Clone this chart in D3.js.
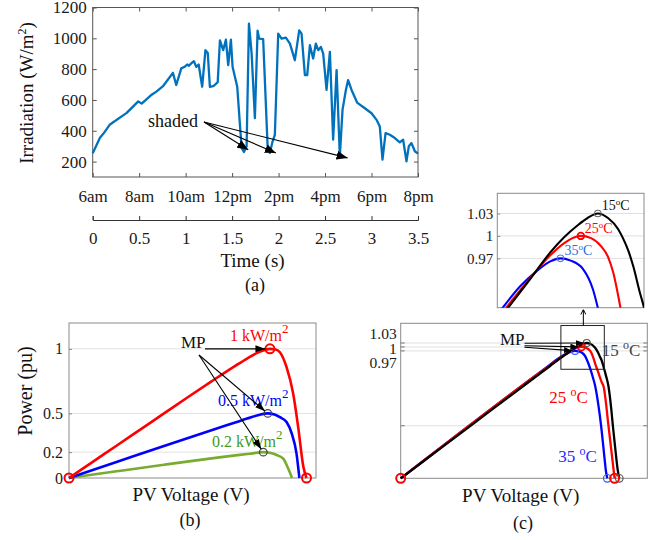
<!DOCTYPE html>
<html>
<head>
<meta charset="utf-8">
<script src="https://cdn.jsdelivr.net/npm/d3@7"></script>
<style>
  body { margin: 0; background: #fff; }
  svg { display: block; font-family: "Liberation Serif", "Times New Roman", serif; }
</style>
</head>
<body>
<svg id="fig" width="666" height="540"></svg>
<script>
// ---------------- (a) irradiation profile ----------------
const timeSec = [0, 0.078, 0.114, 0.186, 0.366, 0.49, 0.527, 0.635, 0.688, 0.76, 0.863, 0.899, 0.953, 0.989,
  1.017, 1.035, 1.06, 1.089, 1.114, 1.14, 1.178, 1.213, 1.238, 1.261, 1.304, 1.345, 1.369, 1.404, 1.433,
  1.458, 1.487, 1.505, 1.53, 1.555, 1.602, 1.627, 1.656, 1.681, 1.71, 1.745, 1.774, 1.791, 1.834, 1.882,
  1.906, 1.935, 1.96, 1.996, 2.032, 2.078, 2.122, 2.175, 2.222, 2.247, 2.283, 2.308, 2.337, 2.372, 2.401,
  2.426, 2.455, 2.48, 2.516, 2.552, 2.587, 2.624, 2.659, 2.688, 2.724, 2.748, 2.785, 2.845, 2.928, 3.0,
  3.054, 3.089, 3.118, 3.151, 3.197, 3.251, 3.304, 3.34, 3.376, 3.401, 3.43, 3.466, 3.5];
const irradiance = [254, 355, 380, 441, 516, 591, 576, 634, 656, 692, 776, 697, 805, 815,
  830, 822, 837, 852, 815, 830, 686, 923, 905, 684, 692, 716, 987, 923, 991,
  826, 991, 815, 750, 686, 289, 262, 299, 1095, 901, 482, 1049, 998, 995, 299,
  256, 330, 374, 1030, 998, 1005, 966, 858, 1052, 1030, 761, 761, 955, 869, 966,
  923, 944, 901, 665, 912, 342, 794, 234, 536, 665, 729, 665, 583, 546, 514,
  471, 428, 213, 385, 374, 353, 325, 342, 202, 299, 320, 267, 252];
const irrTicks = [200, 400, 600, 800, 1000, 1200];
const timeTicks = [0, 0.5, 1, 1.5, 2, 2.5, 3, 3.5];
const hourLabels = ["6am", "8am", "10am", "12pm", "2pm", "4pm", "6pm", "8pm"];
// arrow tips of the "shaded" note, [time (s), W/m2]
const shadedTips = [[1.673, 277], [1.971, 256], [2.742, 224]];

// ---------------- (b) P-V curves vs irradiance ----------------
const irrLabels = ["1 kW/m", "0.5 kW/m", "0.2 kW/m"];
const volt1000 = [0, 0.1, 0.2, 0.3, 0.4, 0.5, 0.6, 0.7, 0.75, 0.8, 0.846, 0.87, 0.888, 0.916, 0.944, 0.965, 0.987, 1.0];
const pow1000  = [0, 0.125, 0.25, 0.375, 0.5, 0.625, 0.748, 0.868, 0.925, 0.975, 1.0, 0.995, 0.974, 0.858, 0.652, 0.394, 0.085, 0];
const volt500  = [0, 0.2, 0.4, 0.6, 0.7, 0.75, 0.8, 0.837, 0.865, 0.888, 0.916, 0.938, 0.958, 0.97];
const pow500   = [0, 0.124, 0.248, 0.37, 0.43, 0.46, 0.488, 0.5, 0.492, 0.471, 0.433, 0.343, 0.189, 0];
const volt200  = [0, 0.2, 0.4, 0.6, 0.7, 0.76, 0.818, 0.85, 0.874, 0.902, 0.923, 0.939];
const pow200   = [0, 0.052, 0.103, 0.152, 0.175, 0.188, 0.2, 0.193, 0.178, 0.15, 0.073, 0];
const powTicksB = [0, 0.2, 0.5, 1];

// ---------------- (c) P-V curves vs temperature ----------------
const tempLabels = ["15", "25", "35"];
const volt15 = [0, 0.2, 0.4, 0.6, 0.7, 0.738, 0.76, 0.78, 0.8, 0.82, 0.84, 0.855, 0.87, 0.885, 0.9, 0.907, 0.915,
  0.922, 0.932, 0.938, 0.95, 0.96, 0.971, 0.985, 0.992, 1.005, 1.015, 1.022];
const pow15  = [0, 0.245, 0.49, 0.735, 0.857, 0.904, 0.93, 0.954, 0.978, 0.998, 1.014, 1.024, 1.03, 1.024, 1.009, 0.997, 0.98,
  0.96, 0.924, 0.904, 0.84, 0.78, 0.705, 0.52, 0.4, 0.2, 0.06, 0];
const volt25 = [0, 0.2, 0.4, 0.6, 0.7, 0.735, 0.76, 0.78, 0.8, 0.82, 0.835, 0.845, 0.86, 0.875, 0.885, 0.893, 0.9,
  0.91, 0.925, 0.94, 0.95, 0.96, 0.97, 0.98, 0.99, 1.0];
const pow25  = [0, 0.25, 0.5, 0.745, 0.862, 0.904, 0.932, 0.954, 0.974, 0.99, 0.998, 1.0, 0.997, 0.986, 0.972, 0.95, 0.92,
  0.87, 0.8, 0.73, 0.69, 0.57, 0.42, 0.28, 0.14, 0];
const volt35 = [0, 0.2, 0.4, 0.6, 0.7, 0.73, 0.755, 0.78, 0.8, 0.815, 0.83, 0.848, 0.863, 0.87, 0.885, 0.9, 0.909,
  0.925, 0.937, 0.95, 0.96, 0.966];
const pow35  = [0, 0.25, 0.5, 0.745, 0.867, 0.904, 0.932, 0.953, 0.966, 0.97, 0.967, 0.956, 0.928, 0.904, 0.84, 0.76, 0.705,
  0.55, 0.4, 0.2, 0.05, 0];
const powTicksC = [0.97, 1, 1.03];
const zoomRectV = [0.749, 0.952];
const zoomRectP = [0.83, 1.163];

// ---------------- helpers ----------------
const svg = d3.select("#fig");
const defs = svg.append("defs");
const SERIF = "'Liberation Serif','Times New Roman',serif";

function arrowMarker(id, len, wid, filled) {
  defs.append("marker").attr("id", id)
    .attr("viewBox", `0 0 ${len} ${wid}`)
    .attr("refX", len).attr("refY", wid / 2)
    .attr("markerWidth", len).attr("markerHeight", wid)
    .attr("markerUnits", "userSpaceOnUse").attr("orient", "auto")
    .append("path")
    .attr("d", filled ? `M0,0L${len},${wid / 2}L0,${wid}Z` : `M0,0.5L${len},${wid / 2}L0,${wid - 0.5}`)
    .attr("fill", filled ? "#000" : "none")
    .attr("stroke", filled ? "none" : "#000").attr("stroke-width", 1);
}
arrowMarker("headA", 11, 9, true);
arrowMarker("headB", 10, 7, true);
arrowMarker("headC", 8, 6, true);
arrowMarker("headUp", 5, 6, false);

// text made of plain and raised parts
function richText(g, x, y, parts, opt) {
  const t = g.append("text").attr("x", x).attr("y", y)
    .attr("font-size", opt.size).attr("fill", opt.color || "#111")
    .attr("text-anchor", opt.anchor || "start");
  if (opt.rotate) t.attr("transform", `rotate(${opt.rotate},${x},${y})`);
  let shift = 0;
  parts.forEach(p => {
    const s = typeof p === "string" ? { t: p, up: 0 } : p;
    const target = -(s.up || 0);
    const ts = t.append("tspan").text(s.t).attr("dy", target - shift);
    if (s.size) ts.attr("font-size", s.size);
    shift = target;
  });
  return t;
}

function styleAxis(g, size, color) {
  g.attr("font-family", SERIF);
  g.selectAll("text").attr("font-size", size).attr("fill", "#1a1a1a").attr("font-family", SERIF);
  g.selectAll("line").attr("stroke", color);
  g.selectAll(".domain").attr("stroke", color);
}

function arrow(g, x1, y1, x2, y2, marker) {
  g.append("line").attr("x1", x1).attr("y1", y1).attr("x2", x2).attr("y2", y2)
    .attr("stroke", "#000").attr("stroke-width", 1.1).attr("marker-end", `url(#${marker})`);
}

// endpoint a little short of a target, along the line from a start point
function shortOf(x1, y1, x2, y2, d) {
  const L = Math.hypot(x2 - x1, y2 - y1);
  return [x2 - (x2 - x1) / L * d, y2 - (y2 - y1) / L * d];
}

// ================= panel (a) =================
{
  const box = { l: 92.7, r: 418, t: 7.5, b: 177 };
  const x = d3.scaleLinear().domain([0, 3.5]).range([box.l, box.r]);
  const y = d3.scaleLinear().domain([100, 1200]).range([box.b, box.t]);
  const g = svg.append("g");
  const ac = "#555";

  g.append("g").attr("transform", `translate(${box.l},0)`)
    .call(d3.axisLeft(y).tickValues(irrTicks).tickSize(-4).tickPadding(6).tickFormat(d3.format("d")))
    .call(s => s.select(".domain").remove()).call(s => styleAxis(s, 17, ac));
  g.append("g").attr("transform", `translate(${box.r},0)`)
    .call(d3.axisRight(y).tickValues(irrTicks).tickSize(-4).tickFormat(""))
    .call(s => s.select(".domain").remove()).call(s => styleAxis(s, 17, ac));
  g.append("g").attr("transform", `translate(0,${box.b})`)
    .call(d3.axisBottom(x).tickValues(timeTicks).tickSize(-4).tickPadding(13)
      .tickFormat((d, i) => hourLabels[i]))
    .call(s => s.select(".domain").remove()).call(s => styleAxis(s, 17, ac));
  g.append("g").attr("transform", `translate(0,${box.t})`)
    .call(d3.axisTop(x).tickValues(timeTicks).tickSize(-4).tickFormat(""))
    .call(s => s.select(".domain").remove()).call(s => styleAxis(s, 17, ac));
  g.append("rect").attr("x", box.l).attr("y", box.t)
    .attr("width", box.r - box.l).attr("height", box.b - box.t)
    .attr("fill", "none").attr("stroke", ac).attr("stroke-width", 1);

  // second axis in seconds
  g.append("g").attr("transform", "translate(0,220)")
    .call(d3.axisBottom(x).tickValues(timeTicks).tickSize(-4).tickSizeOuter(-4).tickPadding(12)
      .tickFormat(d3.format("~g")))
    .call(s => styleAxis(s, 17, "#333"));

  g.append("path").datum(d3.zip(timeSec, irradiance))
    .attr("fill", "none").attr("stroke", "#0072BD").attr("stroke-width", 2.3)
    .attr("stroke-linejoin", "round")
    .attr("d", d3.line().x(d => x(d[0])).y(d => y(d[1])));

  richText(g, 33, 93, ["Irradiation (W/m", { t: "2", up: 7, size: 12 }, ")"],
    { size: 19, anchor: "middle", rotate: -90 });
  richText(g, 252.5, 267, ["Time (s)"], { size: 19, anchor: "middle" });
  richText(g, 255, 291, ["(a)"], { size: 18, anchor: "middle" });

  richText(g, 148, 127, ["shaded"], { size: 18 });
  shadedTips.forEach(d => arrow(g, 204, 122, x(d[0]), y(d[1]), "headA"));
}

// ================= panel (b) =================
{
  const box = { l: 69, r: 316, t: 323, b: 478 };
  const x = d3.scaleLinear().domain([0, 1.04]).range([box.l, box.r]);
  const y = d3.scaleLinear().domain([0, 1.2]).range([box.b, box.t]);
  const g = svg.append("g");
  const ac = "#8a8a8a";

  g.append("g").selectAll("line").data(powTicksB.filter(v => v > 0)).join("line")
    .attr("x1", box.l).attr("x2", box.r).attr("y1", d => y(d)).attr("y2", d => y(d))
    .attr("stroke", "#e2e2e2").attr("stroke-width", 1);
  g.append("g").attr("transform", `translate(${box.l},0)`)
    .call(d3.axisLeft(y).tickValues(powTicksB).tickSize(-3).tickPadding(6).tickFormat(d3.format("~g")))
    .call(s => s.select(".domain").remove()).call(s => styleAxis(s, 16, ac));
  g.append("rect").attr("x", box.l).attr("y", box.t)
    .attr("width", box.r - box.l).attr("height", box.b - box.t)
    .attr("fill", "none").attr("stroke", ac);

  const line = d3.line().x(d => x(d[0])).y(d => y(d[1])).curve(d3.curveMonotoneX);
  const curves = [
    { v: volt200, p: pow200, c: "#77AC30" },
    { v: volt500, p: pow500, c: "#0000FF" },
    { v: volt1000, p: pow1000, c: "#FF0000" }
  ];
  curves.forEach(k => g.append("path").datum(d3.zip(k.v, k.p))
    .attr("fill", "none").attr("stroke", k.c).attr("stroke-width", 2.6).attr("d", line));

  // maximum power points
  const mpp = curves.map(k => { const i = d3.maxIndex(k.p); return [k.v[i], k.p[i]]; });
  [mpp[0], mpp[1]].forEach(d => g.append("circle").attr("cx", x(d[0])).attr("cy", y(d[1])).attr("r", 3.8)
    .attr("fill", "none").attr("stroke", "#444").attr("stroke-width", 1.2));
  const redPts = [[0, 0], mpp[2], [volt1000[volt1000.length - 1], 0]];
  redPts.forEach(d => g.append("circle").attr("cx", x(d[0])).attr("cy", y(d[1])).attr("r", 4.5)
    .attr("fill", "none").attr("stroke", "#FF0000").attr("stroke-width", 2));

  // labels
  richText(g, 230, 341, [irrLabels[0], { t: "2", up: 8, size: 13 }], { size: 16, color: "#FF0000" });
  richText(g, 218, 406, [irrLabels[1], { t: "2", up: 8, size: 13 }], { size: 16, color: "#0000FF" });
  richText(g, 212, 447, [irrLabels[2], { t: "2", up: 8, size: 13 }], { size: 16, color: "#3E9A22" });

  richText(g, 181, 348, ["MP"], { size: 17 });
  arrow(g, 205, y(mpp[2][1]), x(mpp[2][0]) - 4.5, y(mpp[2][1]), "headB");
  [mpp[1], mpp[0]].forEach(d => {
    const t = shortOf(199, 355, x(d[0]), y(d[1]), 3.5);
    arrow(g, 199, 355, t[0], t[1], "headB");
  });

  richText(g, 32, 391, ["Power (pu)"], { size: 20, anchor: "middle", rotate: -90 });
  richText(g, 191, 501, ["PV Voltage (V)"], { size: 19, anchor: "middle" });
  richText(g, 190, 526, ["(b)"], { size: 18, anchor: "middle" });
}

// ================= panel (c) =================
{
  const box = { l: 400.7, r: 647.3, t: 323.3, b: 478.3 };
  const x = d3.scaleLinear().domain([0, 1.153]).range([box.l, box.r]);
  const y = d3.scaleLinear().domain([0, 1.18]).range([box.b, box.t]);
  const g = svg.append("g");
  const ac = "#8a8a8a";

  g.append("g").selectAll("line").data([0.4, ...powTicksC]).join("line")
    .attr("x1", box.l).attr("x2", box.r).attr("y1", d => y(d)).attr("y2", d => y(d))
    .attr("stroke", "#e0e0e0").attr("stroke-width", 1);
  [box.l, box.r].forEach((bx, side) => {
    g.append("g").selectAll("line").data([0.4, ...powTicksC]).join("line")
      .attr("x1", bx).attr("x2", bx + (side ? -4 : 4)).attr("y1", d => y(d)).attr("y2", d => y(d))
      .attr("stroke", "#777");
  });
  // stacked tick labels, spread apart so they stay readable
  const mid = (powTicksC.length - 1) / 2;
  g.append("g").selectAll("text").data(powTicksC).join("text")
    .attr("x", box.l - 4).attr("y", (d, i) => y(1) + 2 + (mid - i) * 14.5 + 5)
    .attr("text-anchor", "end").attr("font-size", 15.5).attr("fill", "#1a1a1a")
    .text(d => d3.format("~g")(d));
  g.append("rect").attr("x", box.l).attr("y", box.t)
    .attr("width", box.r - box.l).attr("height", box.b - box.t)
    .attr("fill", "none").attr("stroke", ac);

  const curves = [
    { v: volt35, p: pow35, c: "#0000FF", mk: "#3355ff" },
    { v: volt25, p: pow25, c: "#FF0000", mk: "#FF0000" },
    { v: volt15, p: pow15, c: "#000000", mk: "#555" }
  ];
  const line = d3.line().x(d => x(d[0])).y(d => y(d[1])).curve(d3.curveMonotoneX);
  curves.forEach(k => g.append("path").datum(d3.zip(k.v, k.p))
    .attr("fill", "none").attr("stroke", k.c).attr("stroke-width", 2.3).attr("d", line));

  const mpp = curves.map(k => { const i = d3.maxIndex(k.p); return [k.v[i], k.p[i]]; });
  curves.forEach((k, i) => {
    const red = k.c === "#FF0000";
    g.append("circle").attr("cx", x(mpp[i][0])).attr("cy", y(mpp[i][1])).attr("r", 3.5)
      .attr("fill", "none").attr("stroke", k.mk).attr("stroke-width", red ? 1.8 : 1.2);
    g.append("circle").attr("cx", x(k.v[k.v.length - 1])).attr("cy", y(0)).attr("r", red ? 4.5 : 3.8)
      .attr("fill", "none").attr("stroke", k.mk).attr("stroke-width", red ? 2 : 1.2);
  });
  g.append("circle").attr("cx", x(0)).attr("cy", y(0)).attr("r", 4.5)
    .attr("fill", "none").attr("stroke", "#FF0000").attr("stroke-width", 2);

  // zoom window and its pointer
  const rx0 = x(zoomRectV[0]), rx1 = x(zoomRectV[1]), ry0 = y(zoomRectP[1]), ry1 = y(zoomRectP[0]);
  g.append("rect").attr("x", rx0).attr("y", ry0).attr("width", rx1 - rx0).attr("height", ry1 - ry0)
    .attr("fill", "none").attr("stroke", "#222").attr("stroke-width", 1);
  g.append("line").attr("x1", x(0.854)).attr("x2", x(0.854)).attr("y1", ry0).attr("y2", 309.5)
    .attr("stroke", "#000").attr("stroke-width", 1).attr("marker-end", "url(#headUp)");

  // MP annotation
  richText(g, 500, 344.5, ["MP"], { size: 17 });
  [[2, 343.3], [1, 345.7], [0, 347.3]].forEach(([i, sy]) => {
    const t = shortOf(524.5, sy, x(mpp[i][0]), y(mpp[i][1]), 3);
    arrow(g, 524.5, sy, t[0], t[1], "headC");
  });

  const deg = { t: "o", up: 7, size: 12 };
  richText(g, 601.7, 356, [tempLabels[0] + " ", deg, "C"], { size: 17, color: "#444" });
  richText(g, 549.3, 403, [tempLabels[1] + " ", deg, "C"], { size: 17, color: "#FF0000" });
  richText(g, 558.3, 462, [tempLabels[2] + " ", deg, "C"], { size: 17, color: "#2a2aff" });

  richText(g, 520.7, 502, ["PV Voltage (V)"], { size: 19, anchor: "middle" });
  richText(g, 523, 529, ["(c)"], { size: 18, anchor: "middle" });

  // ---------- inset: peak region ----------
  const ib = { l: 497.3, r: 644, t: 193.3, b: 307.7 };
  const xi = d3.scaleLinear().domain([0.722, 0.938]).range([ib.l, ib.r]);
  const yi = d3.scaleLinear().domain([0.904, 1.057]).range([ib.b, ib.t]);
  const gi = svg.append("g");
  defs.append("clipPath").attr("id", "insetClip").append("rect")
    .attr("x", ib.l).attr("y", ib.t).attr("width", ib.r - ib.l).attr("height", ib.b - ib.t);

  gi.append("g").selectAll("line").data(powTicksC).join("line")
    .attr("x1", ib.l).attr("x2", ib.r).attr("y1", d => yi(d)).attr("y2", d => yi(d))
    .attr("stroke", "#e0e0e0");
  gi.append("g").attr("transform", `translate(${ib.l},0)`)
    .call(d3.axisLeft(yi).tickValues(powTicksC).tickSize(-3).tickPadding(4).tickFormat(d3.format("~g")))
    .call(s => s.select(".domain").remove()).call(s => styleAxis(s, 15, ac));
  gi.append("rect").attr("x", ib.l).attr("y", ib.t).attr("width", ib.r - ib.l).attr("height", ib.b - ib.t)
    .attr("fill", "none").attr("stroke", ac);

  const li = d3.line().x(d => xi(d[0])).y(d => yi(d[1])).curve(d3.curveMonotoneX);
  const gc = gi.append("g").attr("clip-path", "url(#insetClip)");
  curves.forEach(k => gc.append("path").datum(d3.zip(k.v, k.p))
    .attr("fill", "none").attr("stroke", k.c).attr("stroke-width", 2.1).attr("d", li));
  const inMk = ["#4f7fd6", "#FF0000", "#666"];
  const inTxt = ["#1f6fd8", "#FF0000", "#111"];
  curves.forEach((k, i) => {
    gi.append("circle").attr("cx", xi(mpp[i][0])).attr("cy", yi(mpp[i][1])).attr("r", 3.3)
      .attr("fill", "none").attr("stroke", inMk[i]).attr("stroke-width", i === 1 ? 1.8 : 1.1);
    richText(gi, xi(mpp[i][0]) + 4, yi(mpp[i][1]) - 3,
      [tempLabels[2 - i], { t: "o", up: 5, size: 9 }, "C"], { size: 14, color: inTxt[i] });
  });
}
</script>
</body>
</html>
